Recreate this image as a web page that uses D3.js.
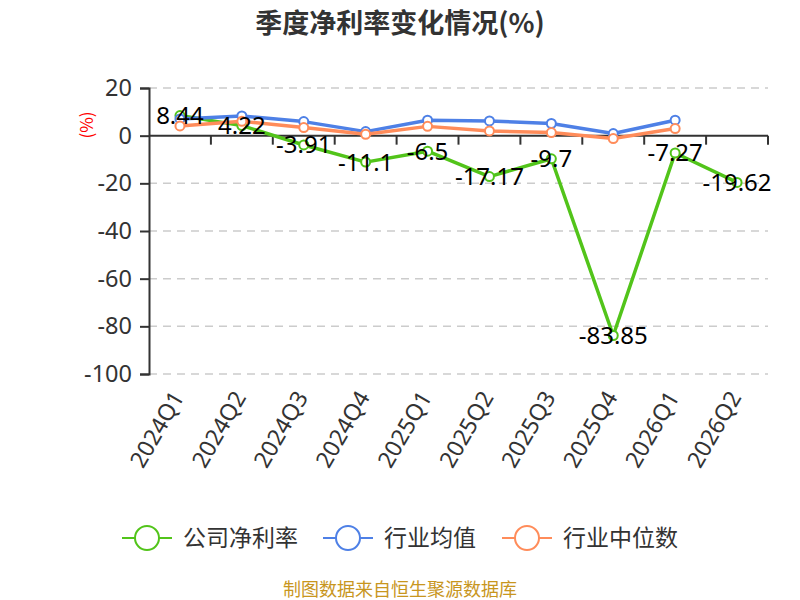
<!DOCTYPE html>
<html lang="zh">
<head>
<meta charset="UTF-8">
<title>季度净利率变化情况(%)</title>
<script src="https://d3js.org/d3.v7.min.js"></script>
<style>
    body { margin: 0; background: #fff; }
    svg text { font-family: "Noto Sans CJK SC", "Noto Sans", sans-serif; }
</style>
</head>
<body>
<div id="chart"></div>
<script>
    var quarters = ["2024Q1", "2024Q2", "2024Q3", "2024Q4", "2025Q1", "2025Q2", "2025Q3", "2025Q4", "2026Q1", "2026Q2"];
    var companyRate = [8.44, 4.22, -3.91, -11.1, -6.5, -17.17, -9.7, -83.85, -7.27, -19.62];
    var industryAvg = [7.0, 8.3, 5.9, 1.7, 6.5, 6.2, 5.1, 0.9, 6.5, null];
    var industryMedian = [4.1, 6.0, 3.4, 0.6, 3.9, 2.0, 1.3, -1.2, 3.0, null];
    var yTicks = [20, 0, -20, -40, -60, -80, -100];
    var seriesNames = ["公司净利率", "行业均值", "行业中位数"];

    var width = 800, height = 600;
    var margin = {top: 88, right: 32, bottom: 226, left: 149};

    var svg = d3.select("#chart").append("svg")
        .attr("width", width)
        .attr("height", height);

    var x = d3.scaleBand()
        .domain(quarters)
        .range([margin.left, width - margin.right]);

    var y = d3.scaleLinear()
        .domain([-100, 20])
        .range([height - margin.bottom, margin.top]);

    var series = [
        {name: seriesNames[0], values: companyRate, color: "#52c41a"},
        {name: seriesNames[1], values: industryAvg, color: "#4e80e6"},
        {name: seriesNames[2], values: industryMedian, color: "#ff8c5a"}
    ];

    // title
    svg.append("text")
        .attr("x", width / 2)
        .attr("y", 33)
        .attr("text-anchor", "middle")
        .style("font-size", "27px")
        .style("font-weight", "bold")
        .style("fill", "#333")
        .text("季度净利率变化情况(%)");

    // grid lines
    svg.append("g")
        .selectAll("line")
        .data(yTicks.filter(d => d !== 0))
        .enter().append("line")
            .attr("x1", margin.left)
            .attr("x2", width - margin.right)
            .attr("y1", d => y(d))
            .attr("y2", d => y(d))
            .attr("stroke", "#ccc")
            .attr("stroke-width", 1.5)
            .attr("stroke-dasharray", "8,6");

    // y axis
    var yAxis = svg.append("g")
        .attr("transform", "translate(" + margin.left + ",0)")
        .call(d3.axisLeft(y).tickValues(yTicks).tickSize(9).tickPadding(8).tickFormat(d => String(d)));
    yAxis.select(".domain").attr("stroke", "#333").attr("stroke-width", 2);
    yAxis.selectAll(".tick line").attr("stroke", "#333").attr("stroke-width", 2);
    yAxis.selectAll("text")
        .style("font-size", "23.5px")
        .style("fill", "#333")
        .style("font-family", "'Noto Sans', sans-serif");

    svg.append("text")
        .attr("transform", "translate(87,125) rotate(-90)")
        .attr("text-anchor", "middle")
        .attr("dy", "0.35em")
        .style("font-size", "17px")
        .style("fill", "red")
        .text("(%)");

    // x axis on zero
    var xAxis = svg.append("g")
        .attr("transform", "translate(0," + y(0) + ")");
    xAxis.append("line")
        .attr("x1", margin.left)
        .attr("x2", width - margin.right)
        .attr("stroke", "#333")
        .attr("stroke-width", 2);
    xAxis.selectAll(".band-tick")
        .data(quarters)
        .enter().append("line")
            .attr("x1", d => x(d) + x.step())
            .attr("x2", d => x(d) + x.step())
            .attr("y1", 0)
            .attr("y2", 9)
            .attr("stroke", "#333")
            .attr("stroke-width", 2);

    // x labels at bottom
    svg.append("g")
        .selectAll("text")
        .data(quarters)
        .enter().append("text")
            .attr("transform", d => "translate(" + (x(d) + x.bandwidth() / 2 - 2) + "," + (y(-100) + 19) + ") rotate(-60)")
            .attr("text-anchor", "end")
            .attr("dy", "0.35em")
            .style("font-size", "23px")
            .style("fill", "#333")
            .style("font-family", "'Noto Sans', sans-serif")
            .text(d => d);

    var line = d3.line()
        .defined(d => d != null)
        .x((d, i) => x(quarters[i]) + x.bandwidth() / 2)
        .y(d => y(d));

    series.forEach(s => {
        svg.append("path")
            .attr("d", line(s.values))
            .attr("fill", "none")
            .attr("stroke", s.color)
            .attr("stroke-width", 3.5)
            .attr("stroke-linejoin", "round");
        svg.append("g")
            .selectAll("circle")
            .data(s.values.map((v, i) => ({v: v, q: quarters[i]})).filter(d => d.v != null))
            .enter().append("circle")
                .attr("cx", d => x(d.q) + x.bandwidth() / 2)
                .attr("cy", d => y(d.v))
                .attr("r", 4.5)
                .attr("fill", "#fff")
                .attr("stroke", s.color)
                .attr("stroke-width", 2);
    });

    // value labels for company
    svg.append("g")
        .selectAll("text")
        .data(companyRate)
        .enter().append("text")
            .attr("x", (d, i) => x(quarters[i]) + x.bandwidth() / 2)
            .attr("y", d => y(d))
            .attr("dy", "0.35em")
            .attr("text-anchor", "middle")
            .style("font-size", "24px")
            .style("fill", "#000")
            .style("font-family", "'Noto Sans', sans-serif")
            .text(d => d);

    // legend
    var legend = svg.append("g")
        .selectAll("g")
        .data(series)
        .enter().append("g")
            .attr("transform", (d, i) => "translate(" + [122, 323, 502][i] + ",538)");
    legend.append("line")
        .attr("x1", 0).attr("x2", 50)
        .attr("stroke", d => d.color)
        .attr("stroke-width", 2);
    legend.append("circle")
        .attr("cx", 25).attr("r", 12)
        .attr("fill", "#fff")
        .attr("stroke", d => d.color)
        .attr("stroke-width", 2);
    legend.append("text")
        .attr("x", 61)
        .attr("dy", "0.35em")
        .style("font-size", "23px")
        .style("fill", "#333")
        .text(d => d.name);

    svg.append("text")
        .attr("x", width / 2)
        .attr("y", 596)
        .attr("text-anchor", "middle")
        .style("font-size", "18px")
        .style("fill", "#c8961e")
        .text("制图数据来自恒生聚源数据库");
</script>
</body>
</html>
